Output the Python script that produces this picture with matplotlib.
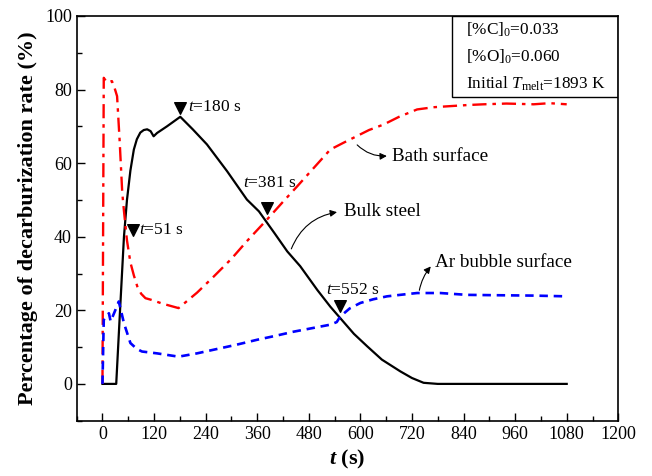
import numpy as np
import matplotlib
matplotlib.use("Agg")
import matplotlib.pyplot as plt
from matplotlib.patches import Rectangle
from matplotlib.ticker import MultipleLocator

plt.rcParams["font.family"] = ["Liberation Serif", "DejaVu Serif"]
plt.rcParams["mathtext.fontset"] = "custom"
plt.rcParams["mathtext.rm"] = "Liberation Serif"
plt.rcParams["mathtext.it"] = "Liberation Serif:italic"
plt.rcParams["mathtext.bf"] = "Liberation Serif:bold"
plt.rcParams["mathtext.bfit"] = "Liberation Serif:italic:bold"

# bulk steel decarburization (%)
bulk_t = [0, 32, 40, 50, 57, 65, 73, 80, 88, 96, 104, 112, 119, 127, 150, 181,
          210, 243, 290, 336, 364, 400, 430, 460, 500, 530, 553, 585, 616,
          650, 693, 720, 747, 780, 900, 1080]
bulk_v = [0, 0, 18, 40, 50, 58, 63.7, 66.5, 68.3, 69.0, 69.2, 68.7, 67.3, 68.2,
          70.0, 72.6, 69.2, 65.1, 57.8, 50.1, 46.9, 41.0, 36.0, 32.0, 25.5,
          21.0, 17.9, 13.6, 10.2, 6.6, 3.4, 1.6, 0.3, 0, 0, 0]

# bath surface (%)
bath_t = [0, 3, 10, 22, 28, 34, 40, 46, 50, 57, 65, 73, 81, 90, 100, 112,
          140, 177, 220, 259, 300, 336, 383, 420, 453, 490, 530, 560, 584,
          620, 654, 690, 732, 770, 809, 850, 887, 940, 1003, 1040, 1080]
bath_v = [0, 83.2, 82.0, 82.3, 80.5, 78.2, 66, 52, 47, 39, 33, 29.5, 26.5, 24.5,
          23.3, 22.9, 21.8, 20.6, 24.8, 29.2, 34.0, 38.8, 44.7, 49.5, 53.7,
          58.5, 63.7, 65.5, 66.9, 69.0, 70.5, 72.6, 74.6, 75.2, 75.5, 75.8,
          76.0, 76.2, 76.0, 76.3, 76.0]

# Ar bubble surface (%)
ar_t = [0, 3, 10, 15, 19, 28, 38, 50, 65, 80, 92, 127, 177, 220, 259, 310,
        360, 400, 445, 490, 530, 545, 553, 575, 600, 630, 662, 700, 732, 786,
        848, 920, 1003, 1080]
ar_v = [0, 17.4, 18.5, 19.2, 17.0, 19.5, 22.4, 16.5, 11.1, 9.5, 8.8, 8.3, 7.4,
        8.3, 9.3, 10.6, 12.0, 13.0, 14.2, 15.2, 16.1, 16.8, 18.3, 20.5, 22.0,
        23.0, 23.8, 24.3, 24.7, 24.7, 24.2, 24.1, 24.0, 23.8]

# event markers (time, value, label) and where each label sits
mark_t = [72, 180, 383, 552]
mark_v = [41.9, 75.0, 47.8, 21.2]
mark_lab = ["51", "180", "381", "552"]
lab_t = [85, 200, 328, 519]
lab_v = [41.9, 75.2, 54.5, 25.6]

fig = plt.figure(figsize=(6.52, 4.76), dpi=100)
ax = fig.add_axes([0.1176, 0.1162, 0.8307, 0.8502])

ax.plot(bulk_t, bulk_v, color="black", lw=1.6, solid_joinstyle="round")
ax.plot(bath_t, bath_v, color="red", lw=1.7, dashes=(6, 2.5, 1.5, 2.5))
ax.plot(ar_t, ar_v, color="blue", lw=1.9, dashes=(3.2, 2.2))

ax.scatter(mark_t, mark_v, marker="v", s=70, color="black", zorder=5)
for lt, lv, lab in zip(lab_t, lab_v, mark_lab):
    ax.text(lt, lv, "$t$=%s s" % lab, fontsize=12.5, va="center", ha="left")

fs_note = 13.8
arrow = dict(arrowstyle="-|>", color="black", lw=0.8, mutation_scale=10)
ax.annotate("", xy=(668, 62), xytext=(588, 65.5),
            arrowprops=dict(arrow, connectionstyle="arc3,rad=0.25"))
ax.text(673, 61.8, "Bath surface", fontsize=fs_note, va="center", ha="left")
ax.annotate("", xy=(552, 46.8), xytext=(437, 36),
            arrowprops=dict(arrow, connectionstyle="arc3,rad=-0.3"))
ax.text(561, 46.8, "Bulk steel", fontsize=fs_note, va="center", ha="left")
ax.annotate("", xy=(768, 32.5), xytext=(736, 24.7),
            arrowprops=dict(arrow, connectionstyle="arc3,rad=-0.15"))
ax.text(774, 32.9, "Ar bubble surface", fontsize=fs_note, va="center", ha="left")

# initial conditions box
ax.add_patch(Rectangle((0.693, 0.8006), 0.307, 0.1994, transform=ax.transAxes,
                       fill=False, edgecolor="black", lw=1.0, zorder=6))
info = [r"[%C]$_0$=0.033", r"[%O]$_0$=0.060", r"Initial $T_{\rm melt}$=1893 K"]
for i, s in enumerate(info):
    ax.text(0.719, 0.966 - i * 0.0665, s, transform=ax.transAxes, fontsize=12.4,
            va="center", ha="left")

ax.set_xlim(-60, 1200)
ax.set_ylim(-10, 100)
ax.set_xticks(np.arange(0, 1201, 120))
ax.set_yticks(np.arange(0, 101, 20))
ax.xaxis.set_minor_locator(MultipleLocator(60))
ax.yaxis.set_minor_locator(MultipleLocator(10))
ax.tick_params(which="both", direction="in", top=False, right=False, labelsize=13, width=1.0)
ax.tick_params(which="major", length=6)
ax.tick_params(which="minor", length=3.5)
for sp in ax.spines.values():
    sp.set_linewidth(1.2)

ax.set_xlabel(r"$\mathbfit{t}$ (s)", fontsize=16, fontweight="bold", labelpad=4)
ax.set_ylabel("Percentage of decarburization rate (%)", fontsize=16, fontweight="bold", labelpad=5)

fig.savefig("out.png", dpi=100)
